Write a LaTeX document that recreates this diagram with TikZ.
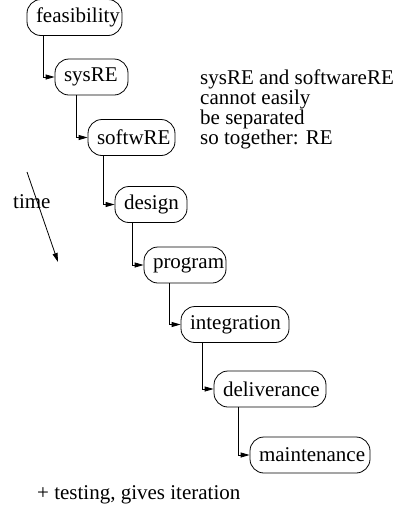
\documentclass[tikz,border=0pt]{standalone}
\usepackage{fontspec}
\setmainfont{Liberation Serif}
\usetikzlibrary{arrows.meta}
\begin{document}
\begin{tikzpicture}[x=1pt,y=-1pt,
  font=\fontsize{21}{20}\selectfont,
  phase/.style={draw, line width=0.8pt, rounded corners=14pt, minimum height=36pt,
    inner xsep=9pt, inner ysep=0pt, align=left},
  link/.style={line width=0.8pt, -{Triangle[length=9pt,width=5pt]}},
  txt/.style={inner sep=0pt, align=left}]
\useasboundingbox (0,0) rectangle (396,509);
\node[phase, text width=77pt]  (feas)  at (74.5,17.5) {feasibility};
\node[phase, text width=55pt]  (sys)   at (91.5,77)   {sysRE};
\node[phase, text width=69pt]  (soft)  at (131.5,137.5) {softwRE};
\node[phase, text width=54pt]  (des)   at (151,204.5) {design};
\node[phase, text width=64pt]  (prog)  at (185,265)   {program};
\node[phase, text width=90pt]  (integ) at (235,324.5) {integration};
\node[phase, text width=94pt]  (deliv) at (270,389)   {deliverance};
\node[phase, text width=102pt] (maint) at (310,455)   {maintenance};
\foreach \a/\b in {feas/sys, sys/soft, soft/des, des/prog, prog/integ, integ/deliv, deliv/maint}{
  \coordinate (k-\b) at ([xshift=-11pt]\b.west);
  \draw[link] (k-\b |- \a.south) |- (\b.west);
}
\node[txt, anchor=north west] (note) at (200,70) {sysRE and softwareRE\\cannot easily\\be separated\\so together: RE};
\node[txt, anchor=base west] (timel) at (13,208) {time};
\coordinate (t0) at (27,172);
\coordinate (t1) at (58,262);
\draw[link] (t0) -- (t1);
\node[txt, anchor=base west] (foot) at (37,499) {+ testing, gives iteration};
\end{tikzpicture}
\end{document}
